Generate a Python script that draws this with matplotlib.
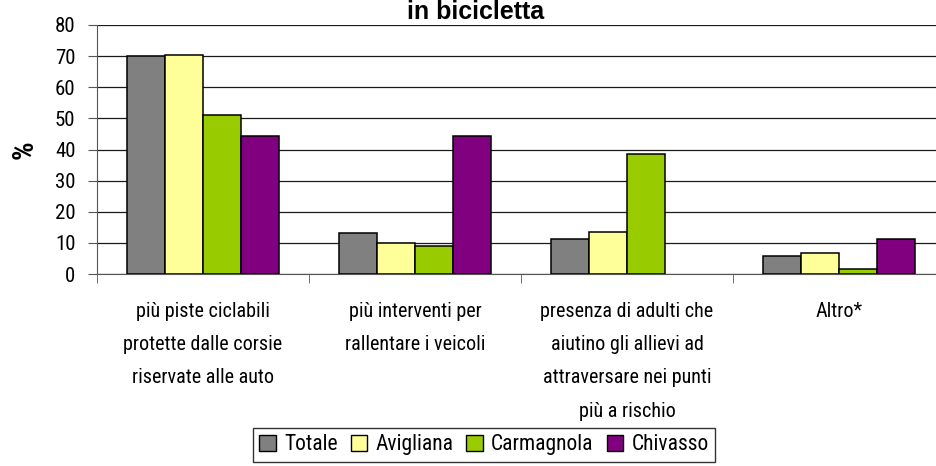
import matplotlib
matplotlib.use("Agg")
import matplotlib.pyplot as plt
import numpy as np
from matplotlib.patches import Patch

categories = [
    "più piste ciclabili\nprotette dalle corsie\nriservate alle auto",
    "più interventi per\nrallentare i veicoli",
    "presenza di adulti che\naiutino gli allievi ad\nattraversare nei punti\npiù a rischio",
    "Altro*",
]
series_names = ["Totale", "Avigliana", "Carmagnola", "Chivasso"]
totale = [70.0, 13.2, 11.1, 5.9]
avigliana = [70.4, 10.0, 13.5, 6.8]
carmagnola = [51.0, 9.1, 38.4, 1.6]
chivasso = [44.4, 44.4, 0.0, 11.1]
yticks = [0, 10, 20, 30, 40, 50, 60, 70, 80]
colors = ["#808080", "#FFFF99", "#99CC00", "#800080"]

narrow = ["Roboto Condensed", "DejaVu Sans"]

fig = plt.figure(figsize=(9.36, 4.66), dpi=100)
ax = fig.add_axes([97/936, 1-274/466, 848/936, 249/466])

data = [totale, avigliana, carmagnola, chivasso]
x = np.arange(len(categories))
w = 0.18
for j, (vals, c) in enumerate(zip(data, colors)):
    edges = ["black" if v > 0 else "none" for v in vals]
    ax.bar(x + (j - 1.5) * w, vals, width=w, color=c, edgecolor=edges,
           linewidth=1.1, zorder=3)

ax.set_ylim(0, 80)
ax.set_xlim(-0.5, len(categories) - 0.5)
ax.set_yticks(yticks)
ax.set_yticklabels([str(v) for v in yticks], family=narrow, fontsize=15)
ax.yaxis.grid(True, color="#1a1a1a", linewidth=0.9, zorder=0)
ax.set_axisbelow(True)

ax.set_xticks(x)
ax.set_xticklabels(categories, family=narrow, fontsize=14.5, linespacing=1.95,
                   va="top")
ax.tick_params(axis="x", which="major", length=0, pad=20)
ax.set_xticks(np.arange(-0.5, len(categories) + 0.5, 1), minor=True)
ax.tick_params(axis="x", which="minor", length=6.5, color="#555555", direction="out")
ax.tick_params(axis="y", length=6.5, color="#555555", pad=9)

for s in ["top", "right"]:
    ax.spines[s].set_visible(False)
ax.spines["left"].set_color("#555555")
ax.spines["bottom"].set_color("#555555")

ax.set_ylabel("%", family=narrow, fontsize=21, fontweight="bold", labelpad=12)

fig.text(476/936, 1 - 19/466, "in bicicletta", ha="center", va="baseline",
         fontsize=18, fontweight="bold", family="Liberation Sans")

handles = [Patch(facecolor=c, edgecolor="black", label=n) for c, n in zip(colors, series_names)]
leg = fig.legend(handles=handles, loc="upper left", bbox_to_anchor=(253/936, 1-428/466),
                 ncol=4, frameon=True, fancybox=False, edgecolor="black",
                 prop={"family": narrow, "size": 15.5}, handlelength=0.75,
                 handleheight=0.75, handletextpad=0.4, columnspacing=0.6,
                 borderpad=0.3, borderaxespad=0)
leg.get_frame().set_linewidth(1.0)

fig.savefig("out.png", dpi=100)
